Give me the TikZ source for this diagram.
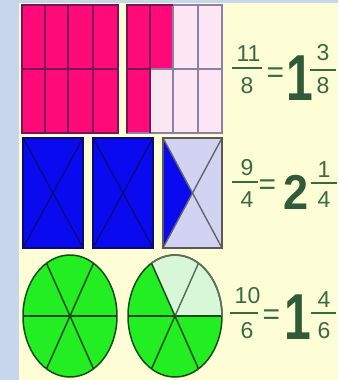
\documentclass[tikz,border=0pt]{standalone}
\usepackage{fontspec}
\usepackage{graphicx}
\setmainfont{Liberation Sans}
\definecolor{bgblue}{HTML}{C8D6EC}
\definecolor{panel}{HTML}{FDFDD6}
\definecolor{pink}{HTML}{FF0A78}
\definecolor{lpink}{HTML}{FCE6F4}
\definecolor{pinkline}{HTML}{7A1458}
\definecolor{greyline}{HTML}{8A80A8}
\definecolor{bblue}{HTML}{0A0AF0}
\definecolor{lblue}{HTML}{D2D2F2}
\definecolor{blueline}{HTML}{0A0A70}
\definecolor{ggreen}{HTML}{22EE22}
\definecolor{lgreen}{HTML}{D8F6D8}
\definecolor{gline}{HTML}{1A4A1A}
\definecolor{txt}{HTML}{3A6A42}
\newcommand{\bignum}[1]{\scalebox{0.74}[1]{\bfseries #1}}
\begin{document}
\begin{tikzpicture}[x=1pt,y=-1pt,
  dig/.style={inner sep=0pt,text=txt,font=\fontsize{23}{23}\selectfont},
  eqs/.style={inner sep=0pt,text=txt,font=\fontsize{30}{30}\selectfont},
  bigdig/.style={inner sep=0pt,text=txt!85!black,font=\fontsize{65}{65}\selectfont},
  fbar/.style={draw=txt,line width=1.6pt},
  pinkgrid/.style={draw=pinkline,line width=1.6pt},
  greygrid/.style={draw=greyline,line width=1.4pt},
  bluegrid/.style={draw=blueline,line width=1.2pt},
  gsector/.style={draw=gline,line width=1.5pt}]
\useasboundingbox (0,0) rectangle (338,380);
\fill[bgblue] (0,0) rectangle (338,380);
\fill[panel] (19,3) rectangle (338,380);
% ---- row 1 : eighths
\fill[pink] (22,5) rectangle (118,133);
\foreach \x in {45,68,93} \draw[pinkgrid] (\x,5) -- (\x,133);
\draw[pinkgrid] (22,69) -- (118,69);
\draw[pinkgrid] (22,5) rectangle (118,133);
\fill[lpink] (127,5) rectangle (222,133);
\fill[pink] (127,5) rectangle (173,69);
\fill[pink] (127,69) rectangle (150,133);
\draw[greygrid] (127,5) rectangle (222,133);
\draw[greygrid] (198,5) -- (198,133);
\draw[greygrid] (173,5) -- (173,133);
\draw[greygrid] (150,69) -- (222,69);
\draw[pinkgrid] (150,5) -- (150,133);
\draw[pinkgrid] (127,69) -- (150,69);
\draw[pinkgrid] (127,133) -- (127,5) -- (173,5);
% ---- row 2 : quarters
\foreach \a/\b in {23/83,93/153} {
  \fill[bblue] (\a,138) rectangle (\b,248);
  \draw[bluegrid] (\a,138) -- (\b,248);
  \draw[bluegrid] (\a,248) -- (\b,138);
  \draw[draw=blueline,line width=1.4pt] (\a,138) rectangle (\b,248);
}
\fill[lblue] (163,138) rectangle (222,248);
\fill[bblue] (163,138) -- (192.5,193) -- (163,248) -- cycle;
\draw[draw=gray!80!black,line width=1.4pt] (163,138) -- (222,248);
\draw[draw=gray!80!black,line width=1.4pt] (163,248) -- (222,138);
\draw[draw=gray!70!black,line width=1.6pt] (163,138) rectangle (222,248);
% ---- row 3 : sixths
\fill[ggreen] (70,316) ellipse [x radius=47, y radius=61];
\draw[gsector] (23,316) -- (117,316);
\draw[gsector] (46.5,368.83) -- (93.5,263.17);
\draw[gsector] (46.5,263.17) -- (93.5,368.83);
\draw[gsector] (70,316) ellipse [x radius=47, y radius=61];
\fill[ggreen] (175,316) ellipse [x radius=47, y radius=61];
\begin{scope}
  \clip (175,316) -- (240,316) -- (240,200) -- (128,210.34) -- cycle;
  \fill[lgreen] (175,316) ellipse [x radius=47, y radius=61];
\end{scope}
\draw[gsector] (128,316) -- (222,316);
\draw[draw=gray!60!gline,line width=1.4pt] (175,316) -- (198.5,263.17);
\draw[gsector] (175,316) -- (151.5,368.83);
\draw[gsector] (151.5,263.17) -- (198.5,368.83);
\draw[gsector] (175,316) ellipse [x radius=47, y radius=61];
\begin{scope}
  \clip (175,316) -- (240,316) -- (240,200) -- (128,210.34) -- cycle;
  \draw[draw=gray!70!gline,line width=1.6pt] (175,316) ellipse [x radius=47, y radius=61];
\end{scope}
% ---- texts row 1
\node[dig] (n1) at (248.5,54) {11};
\coordinate (b1l) at (232,68); \coordinate (b1r) at (262,68);
\draw[fbar] (b1l) -- (b1r);
\node[dig] (d1) at (247,86) {8};
\node[eqs] (e1) at (275.5,75) {=};
\node[bigdig] (w1) at (300,78.5) {\bignum{1}};
\node[dig] (fn1) at (323,53) {3};
\coordinate (c1l) at (310,70); \coordinate (c1r) at (336,70);
\draw[fbar] (c1l) -- (c1r);
\node[dig] (fd1) at (323,86) {8};
% ---- texts row 2
\node[dig] (n2) at (247,167.5) {9};
\coordinate (b2l) at (232,182); \coordinate (b2r) at (258,182);
\draw[fbar] (b2l) -- (b2r);
\node[dig] (d2) at (247,200) {4};
\node[eqs] (e2) at (267.5,187.5) {=};
\node[bigdig,font=\fontsize{49}{49}\selectfont] (w2) at (296.5,192.5) {\scalebox{0.92}[1]{\bfseries 2}};
\node[dig] (fn2) at (324,170) {1};
\coordinate (c2l) at (311,183); \coordinate (c2r) at (337,183);
\draw[fbar] (c2l) -- (c2r);
\node[dig] (fd2) at (324,200) {4};
% ---- texts row 3
\node[dig] (n3) at (247.5,295.5) {10};
\coordinate (b3l) at (230,313); \coordinate (b3r) at (258,313);
\draw[fbar] (b3l) -- (b3r);
\node[dig] (d3) at (247,331) {6};
\node[eqs] (e3) at (271.5,317.5) {=};
\node[bigdig] (w3) at (297.5,317.5) {\bignum{1}};
\node[dig] (fn3) at (324,300) {4};
\coordinate (c3l) at (311,313); \coordinate (c3r) at (336,313);
\draw[fbar] (c3l) -- (c3r);
\node[dig] (fd3) at (324,330.5) {6};
\end{tikzpicture}
\end{document}
